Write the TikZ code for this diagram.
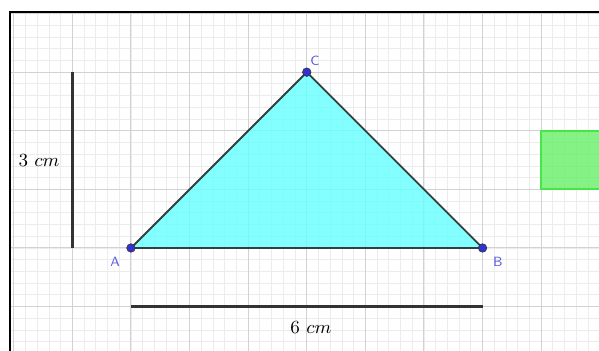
\documentclass[tikz,border=0pt]{standalone}
\usepackage{tikz}
\usetikzlibrary{positioning}
\definecolor{minorgray}{RGB}{236,236,236}
\definecolor{majorgray}{RGB}{210,210,210}
\definecolor{triedge}{RGB}{51,64,64}
\definecolor{trifill}{RGB}{100,255,255}
\definecolor{ptblue}{RGB}{50,50,210}
\definecolor{lblblue}{RGB}{90,90,220}
\definecolor{sqfill}{RGB}{110,240,110}
\definecolor{sqedge}{RGB}{70,230,70}

\begin{document}
\begin{tikzpicture}[x=1cm,y=1cm,
  vertex/.style={circle,fill=ptblue,draw=black!80,line width=0.3pt,inner sep=0pt,minimum size=1.45mm},
  vlabel/.style={text=lblblue,font=\sffamily\fontsize{6.5}{8}\selectfont},
  measbar/.style={line width=1.1pt,black!80}]
  \useasboundingbox (-2.235,-1.758) rectangle (7.987,4.232);
  \draw[minorgray,line width=0.4pt,step=0.2] (-2.065,-1.758) grid (7.987,4.027);
  \draw[majorgray,line width=0.5pt,step=1] (-2.065,-1.758) grid (7.987,4.027);
  \draw[black,line width=0.7pt] (-2.065,-1.758) -- (-2.065,4.027) -- (7.987,4.027);

  \coordinate (A) at (0,0);
  \coordinate (B) at (6,0);
  \coordinate (C) at (3,3);
  \fill[trifill,fill opacity=0.8] (A) -- (B) -- (C) -- cycle;
  \draw[triedge,line width=0.9pt,line join=round] (A) -- (B) -- (C) -- cycle;
  \fill[sqfill,fill opacity=0.85] (7,1) rectangle (8.2,2);
  \draw[sqedge,line width=0.9pt] (7,1) rectangle (8.2,2);

  \node[vertex] (pA) at (A) {};
  \node[vertex] (pB) at (B) {};
  \node[vertex] (pC) at (C) {};
  \node[vlabel] (lA) at (-0.27,-0.24) {A};
  \node[vlabel] (lB) at (6.26,-0.24) {B};
  \node[vlabel] (lC) at (3.14,3.2) {C};

  \coordinate (h0) at (-1,0);
  \coordinate (h1) at (-1,3);
  \draw[measbar] (h0) -- (h1);
  \node[font=\small] (hl) at (-1.57,1.49) {$3\ cm$};
  \coordinate (w0) at (0,-1);
  \coordinate (w1) at (6,-1);
  \draw[measbar] (w0) -- (w1);
  \node[font=\small] (wl) at (3.07,-1.35) {$6\ cm$};
\end{tikzpicture}
\end{document}
